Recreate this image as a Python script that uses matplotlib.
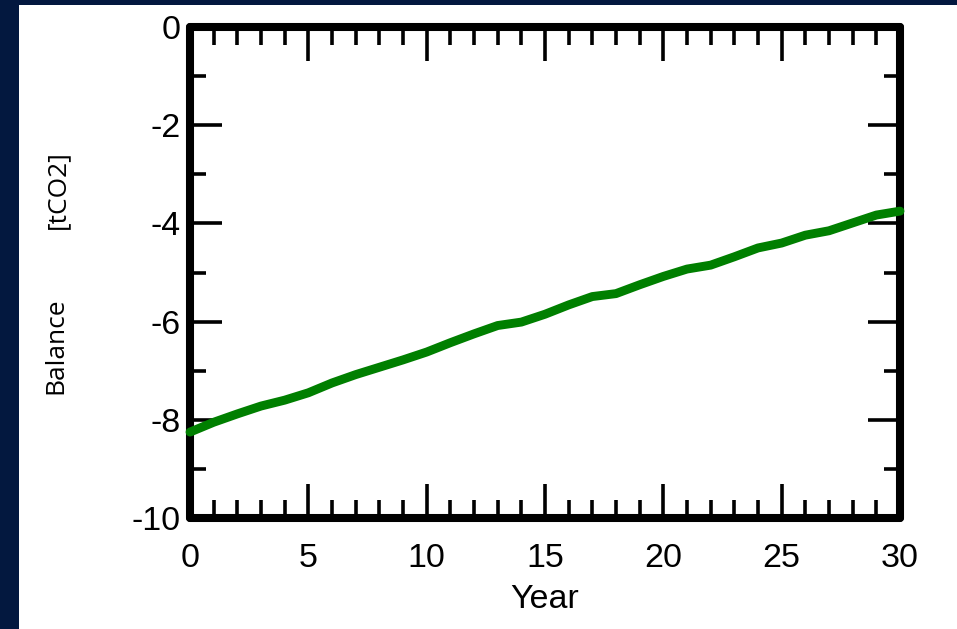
import numpy as np
import matplotlib
matplotlib.use('Agg')
import matplotlib.pyplot as plt
from matplotlib.patches import Rectangle
from matplotlib.ticker import MultipleLocator

plt.rcParams['axes.unicode_minus'] = False

# yearly balance
years = list(range(0, 31))
balance = [-8.25, -8.05, -7.88, -7.72, -7.60, -7.45, -7.25, -7.08, -6.93, -6.78,
           -6.62, -6.43, -6.25, -6.08, -6.01, -5.85, -5.66, -5.49, -5.43, -5.25,
           -5.08, -4.93, -4.85, -4.68, -4.50, -4.40, -4.24, -4.15, -3.99, -3.83,
           -3.75]
x_ticks = [0, 5, 10, 15, 20, 25, 30]
y_ticks = [-10, -8, -6, -4, -2, 0]

W, H = 957, 629
fig = plt.figure(figsize=(W / 100, H / 100), dpi=100)
fig.patch.set_facecolor('#03183f')
# white slide panel
fig.patches.append(Rectangle((19 / W, 0), 1 - 19 / W, 1 - 5 / H,
                             transform=fig.transFigure, facecolor='white',
                             edgecolor='none', zorder=-10))

ax = fig.add_axes([190 / W, 111 / H, 710 / W, 491 / H])
ax.set_facecolor('white')
ax.plot(years, balance, color='#007f00', lw=6.4, solid_capstyle='round',
        solid_joinstyle='round', clip_on=False, zorder=3)

ax.set_xlim(0, 30)
ax.set_ylim(-10, 0)
ax.set_xticks(x_ticks)
ax.set_yticks(y_ticks)
ax.xaxis.set_minor_locator(MultipleLocator(1))
ax.yaxis.set_minor_locator(MultipleLocator(1))

for s in ax.spines.values():
    s.set_linewidth(5.8)
    s.set_capstyle('round')

font = 'Liberation Sans'
ax.tick_params(axis='both', which='both', direction='in', top=True, right=True,
               width=2.6, color='black')
ax.tick_params(axis='x', which='major', length=24.5, pad=18)
ax.tick_params(axis='x', which='minor', length=13)
ax.tick_params(axis='y', which='major', length=23, pad=7)
ax.tick_params(axis='y', which='minor', length=11.5)
for lab in ax.get_xticklabels() + ax.get_yticklabels():
    lab.set_fontfamily(font)
    lab.set_fontsize(24.5)

ax.set_xlabel('Year', fontfamily=font, fontsize=24.5, labelpad=7)

fig.text(56 / W, 1 - 346 / H, 'Balance', rotation=90, ha='center', va='center',
         fontfamily='Open Sans', fontsize=19)
fig.text(58 / W, 1 - 190 / H, '[tCO2]', rotation=90, ha='center', va='center',
         fontfamily='Open Sans', fontsize=19)

fig.savefig('out.png', dpi=100, facecolor=fig.get_facecolor())
